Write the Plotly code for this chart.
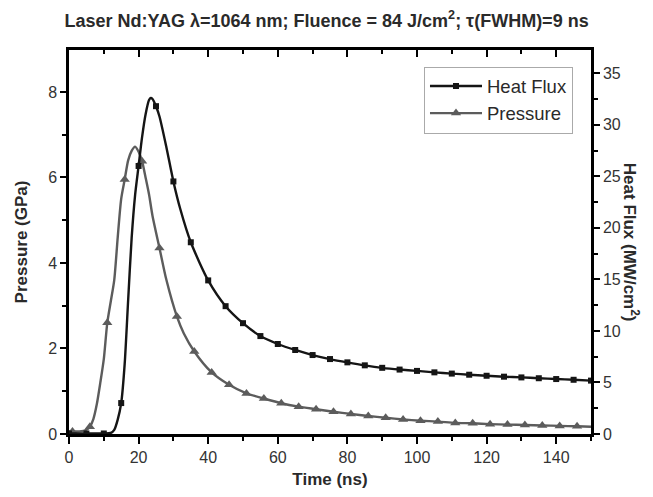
import plotly.graph_objects as go

# ---- data ----
pressure_t = [0, 1, 3, 5, 6, 7, 8, 9, 10, 11, 12, 13, 14, 15, 16, 17, 18, 19, 20, 21,
              22, 23, 24, 26, 28, 31, 33, 36, 41, 46, 51, 56, 61, 66, 71, 76, 81, 86,
              91, 96, 101, 106, 111, 116, 121, 126, 131, 136, 141, 146, 150]
pressure_gpa = [0.06, 0.06, 0.06, 0.10, 0.17, 0.35, 0.7, 1.2, 1.75, 2.6, 3.1, 3.6, 4.6,
                5.5, 5.95, 6.4, 6.62, 6.72, 6.6, 6.38, 6.0, 5.6, 5.1, 4.35, 3.6, 2.75,
                2.35, 1.93, 1.44, 1.15, 0.95, 0.83, 0.72, 0.64, 0.58, 0.52, 0.47, 0.42,
                0.38, 0.34, 0.31, 0.29, 0.26, 0.25, 0.23, 0.22, 0.21, 0.20, 0.19, 0.18, 0.17]
pressure_marker_t = list(range(1, 150, 5))

flux_t = [0, 5, 10, 12, 13, 14, 15, 16, 17, 18, 19, 20, 21, 22, 23, 23.5, 24, 25, 26,
          28, 30, 32, 35, 40, 45, 50, 55, 60, 65, 70, 75, 80, 85, 90, 95, 100, 105,
          110, 115, 120, 125, 130, 135, 140, 145, 150]
flux_mw = [0.05, 0.05, 0.05, 0.1, 0.4, 1.4, 3.0, 6.8, 13.0, 19.0, 23.2, 26.0, 28.8,
           31.0, 32.4, 32.6, 32.5, 31.8, 30.8, 27.8, 24.5, 21.8, 18.6, 14.9, 12.4,
           10.75, 9.5, 8.73, 8.15, 7.66, 7.27, 6.95, 6.66, 6.42, 6.25, 6.12, 5.98,
           5.86, 5.75, 5.65, 5.56, 5.49, 5.41, 5.33, 5.26, 5.18]
flux_marker_t = list(range(0, 151, 5))

x_ticks = list(range(0, 141, 20))
p_ticks = [0, 2, 4, 6, 8]
f_ticks = list(range(0, 36, 5))

title_text = "Laser Nd:YAG λ=1064 nm; Fluence = 84 J/cm<sup>2</sup>; τ(FWHM)=9 ns"

# ---- styling ----
FONT = "Liberation Sans, Arial, sans-serif"
FLUX_C = "#151515"
PRES_C = "#5c5c5c"
TXT_C = "#2a2a2a"


def subset(ts, vs, keep):
    xs, ys = [], []
    for t, v in zip(ts, vs):
        if t in keep:
            xs.append(t)
            ys.append(v)
    return xs, ys


fig = go.Figure()

# lines
fig.add_trace(go.Scatter(x=flux_t, y=flux_mw, mode="lines", yaxis="y2",
                         line=dict(color=FLUX_C, width=2.4, shape="spline", smoothing=0.7),
                         showlegend=False, hoverinfo="skip"))
fig.add_trace(go.Scatter(x=pressure_t, y=pressure_gpa, mode="lines",
                         line=dict(color=PRES_C, width=2.4, shape="spline", smoothing=0.7),
                         showlegend=False, hoverinfo="skip"))
# markers
fx, fy = subset(flux_t, flux_mw, set(flux_marker_t))
fig.add_trace(go.Scatter(x=fx, y=fy, mode="markers", yaxis="y2",
                         marker=dict(symbol="square", size=6, color=FLUX_C),
                         showlegend=False, name="Heat Flux"))
px_, py_ = subset(pressure_t, pressure_gpa, set(pressure_marker_t))
fig.add_trace(go.Scatter(x=px_, y=py_, mode="markers",
                         marker=dict(symbol="triangle-up", size=9, color=PRES_C),
                         showlegend=False, name="Pressure"))
# legend entries
fig.add_trace(go.Scatter(x=[None], y=[None], mode="lines+markers", name="Heat Flux",
                         line=dict(color=FLUX_C, width=2.4),
                         marker=dict(symbol="square", size=6, color=FLUX_C)))
fig.add_trace(go.Scatter(x=[None], y=[None], mode="lines+markers", name="Pressure",
                         line=dict(color=PRES_C, width=2.4),
                         marker=dict(symbol="triangle-up", size=9, color=PRES_C)))

# invisible trace to activate top axis
fig.add_trace(go.Scatter(x=[None], y=[None], xaxis="x2", showlegend=False, hoverinfo="skip"))

tickfont = dict(family=FONT, size=16, color="#333333")
titlefont = dict(family=FONT, size=17, color=TXT_C, weight="bold")

# the page body has an 8px margin, so the figure is sized to fill the rest of the window
fig.update_layout(
    width=645, height=489,
    margin=dict(l=61, r=62, t=42, b=63, autoexpand=False),
    paper_bgcolor="white", plot_bgcolor="white",
    font=dict(family=FONT, color=TXT_C),
    title=dict(text=title_text, x=0.494, xanchor="center", y=0.974, yanchor="middle",
               font=dict(family=FONT, size=18, color=TXT_C, weight="bold")),
    xaxis=dict(range=[0, 150], tickvals=x_ticks, ticks="outside", ticklen=7, tickwidth=2,
               tickcolor="black", showline=True, linecolor="black", linewidth=2.5,
               showgrid=False, zeroline=False, tickfont=tickfont, automargin=False,
               minor=dict(dtick=10, tick0=0, ticks="outside", ticklen=4, tickwidth=2,
                          tickcolor="black"),
               title=dict(text="Time (ns)", standoff=9, font=titlefont)),
    xaxis2=dict(range=[0, 150], overlaying="x", side="top", tickvals=x_ticks,
                ticks="inside", ticklen=7, tickwidth=2, tickcolor="black",
                showticklabels=False, showline=True, linecolor="black", linewidth=2.5,
                showgrid=False, zeroline=False, automargin=False,
                minor=dict(dtick=10, tick0=0, ticks="inside", ticklen=4, tickwidth=2,
                           tickcolor="black")),
    yaxis=dict(range=[0, 8.98], tickvals=p_ticks, ticks="outside", ticklen=6, tickwidth=2,
               tickcolor="black", showline=True, linecolor="black", linewidth=2.5,
               showgrid=False, zeroline=False, tickfont=tickfont, automargin=False,
               minor=dict(dtick=1, tick0=0, ticks="outside", ticklen=4, tickwidth=2,
                          tickcolor="black"),
               title=dict(text="Pressure (GPa)", standoff=17, font=titlefont)),
    yaxis2=dict(range=[0, 37.25], overlaying="y", side="right", tickvals=f_ticks,
                ticks="outside", ticklen=6, tickwidth=2, tickcolor="black",
                showline=True, linecolor="black", linewidth=2.5, showgrid=False,
                zeroline=False, tickfont=tickfont, automargin=False,
                minor=dict(dtick=2.5, tick0=0, ticks="outside", ticklen=4, tickwidth=2,
                           tickcolor="black")),
    legend=dict(x=0.9655, y=0.957, xanchor="right", yanchor="top",
                bgcolor="white", bordercolor="#aaaaaa", borderwidth=1,
                font=dict(family=FONT, size=18.5, color=TXT_C),
                tracegroupgap=0, itemwidth=52),
    annotations=[dict(text="Heat Flux (MW/cm<sup>2</sup>)", textangle=90,
                      xref="paper", yref="paper", x=1.077, y=0.5,
                      xanchor="center", yanchor="middle", showarrow=False,
                      font=dict(family=FONT, size=17, color=TXT_C, weight="bold"))],
)

fig.write_html("out.html")
